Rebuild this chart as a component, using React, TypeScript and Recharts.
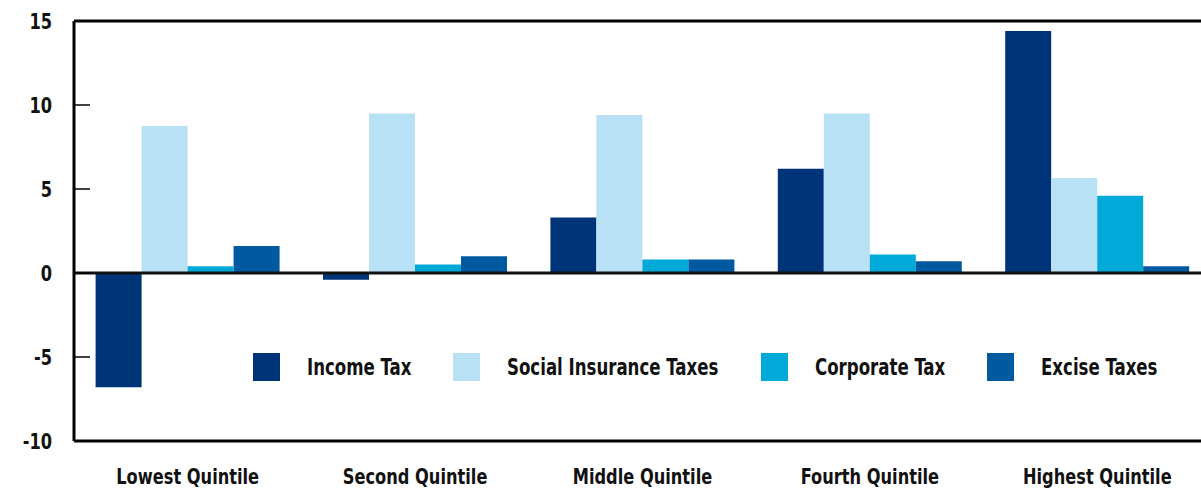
import React from "react";
import { BarChart, Bar, XAxis, YAxis, ReferenceLine, Legend } from "recharts";

const categories = ["Lowest Quintile", "Second Quintile", "Middle Quintile", "Fourth Quintile", "Highest Quintile"];
const incomeTax = [-6.8, -0.4, 3.3, 6.2, 14.4];
const socialInsurance = [8.75, 9.5, 9.4, 9.5, 5.65];
const corporateTax = [0.4, 0.5, 0.8, 1.1, 4.6];
const exciseTaxes = [1.6, 1.0, 0.8, 0.7, 0.4];
const yTicks = [-10, -5, 0, 5, 10, 15];

const seriesNames = ["Income Tax", "Social Insurance Taxes", "Corporate Tax", "Excise Taxes"];
const seriesKeys = ["income", "social", "corporate", "excise"];
const seriesColors = ["#003478", "#b9e1f6", "#00aad8", "#005aa0"];

const data = categories.map((c, i) => ({
  name: c,
  income: incomeTax[i],
  social: socialInsurance[i],
  corporate: corporateTax[i],
  excise: exciseTaxes[i],
}));

const FONT = "'DejaVu Sans Condensed', 'DejaVu Sans', sans-serif";
const FS = 22;
const SX = 0.82;

let ctx: CanvasRenderingContext2D | null = null;
function measure(t: string, size: number) {
  if (!ctx) ctx = document.createElement("canvas").getContext("2d");
  if (!ctx) return t.length * size * 0.55;
  ctx.font = `bold ${size}px 'DejaVu Sans Condensed', 'DejaVu Sans', sans-serif`;
  return ctx.measureText(t).width;
}

const YTick = (props: any) => {
  const { x, y, payload } = props;
  return (
    <g>
      <line x1={x} x2={x + 16} y1={y} y2={y} stroke="#000" strokeWidth={1.5} />
      <text
        transform={`translate(${x - 22},${y}) scale(${SX},1)`}
        x={0}
        y={0}
        textAnchor="end"
        dominantBaseline="central"
        fontFamily={FONT}
        fontWeight="bold"
        fontSize={FS}
        fill="#111"
      >
        {payload.value}
      </text>
    </g>
  );
};

const XTick = (props: any) => {
  const { x, y, payload } = props;
  return (
    <text
      transform={`translate(${x},${y + 35}) scale(${SX},1)`}
      x={0}
      y={0}
      textAnchor="middle"
      fontFamily={FONT}
      fontWeight="bold"
      fontSize={FS}
      fill="#111"
    >
      {payload.value}
    </text>
  );
};

const LFS = 22.5;

const LegendContent = () => (
  <div style={{ display: "flex", alignItems: "center" }}>
    {seriesNames.map((n, i) => {
      const w = measure(n, LFS) * SX;
      return (
        <div key={n} style={{ display: "flex", alignItems: "center", marginRight: 42 }}>
          <div style={{ width: 27, height: 28, background: seriesColors[i] }} />
          <div style={{ marginLeft: 27, width: w, height: 28, position: "relative" }}>
            <span
              style={{
                position: "absolute",
                left: 0,
                top: 0,
                lineHeight: "28px",
                fontFamily: FONT,
                fontWeight: "bold",
                fontSize: LFS,
                color: "#111",
                whiteSpace: "nowrap",
                transform: `scaleX(${SX})`,
                transformOrigin: "left center",
              }}
            >
              {n}
            </span>
          </div>
        </div>
      );
    })}
  </div>
);

export default function App() {
  return (
    <div style={{ position: "absolute", left: 0, top: 0, width: 1201, height: 488, background: "#fff", overflow: "hidden" }}>
      <BarChart
        width={1211}
        height={488}
        data={data}
        margin={{ top: 21, right: 0, left: 0, bottom: 7 }}
        barCategoryGap="9.5%"
        barGap={0}
      >
        <XAxis
          dataKey="name"
          height={40}
          axisLine={{ stroke: "#000", strokeWidth: 3 }}
          tickLine={false}
          tick={<XTick />}
          interval={0}
        />
        <YAxis
          width={74}
          domain={[-10, 15]}
          ticks={yTicks}
          axisLine={{ stroke: "#000", strokeWidth: 3 }}
          tickLine={false}
          tickSize={0}
          tickMargin={0}
          tick={<YTick />}
          interval={0}
        />
        {seriesKeys.map((k, i) => (
          <Bar key={k} dataKey={k} name={seriesNames[i]} fill={seriesColors[i]} isAnimationActive={false} />
        ))}
        <ReferenceLine y={15} stroke="#000" strokeWidth={3} />
        <ReferenceLine y={0} stroke="#111" strokeWidth={3} />
        <Legend
          verticalAlign="middle"
          align="center"
          layout="horizontal"
          content={<LegendContent />}
          wrapperStyle={{ top: 353, left: 253, width: "auto" }}
        />
      </BarChart>
    </div>
  );
}
